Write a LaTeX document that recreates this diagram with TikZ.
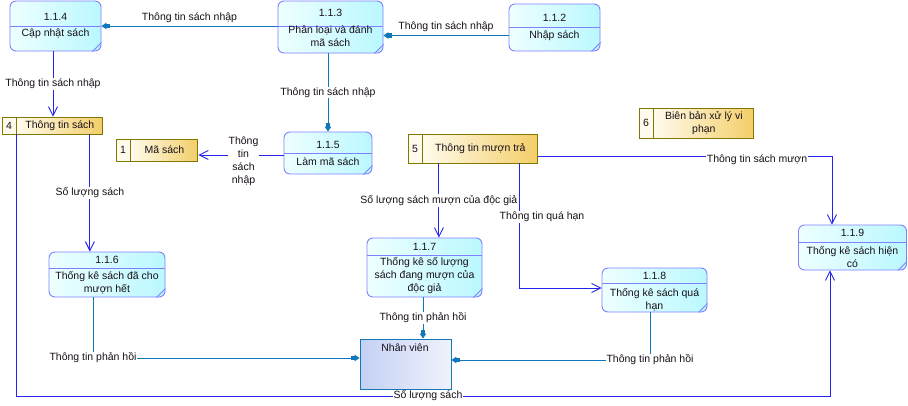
\documentclass[tikz,border=0pt]{standalone}
\usepackage{fontspec}
\setmainfont{Liberation Sans}
\usetikzlibrary{arrows.meta, positioning}

\definecolor{procborder}{RGB}{128,128,255}
\definecolor{procA}{RGB}{238,255,255}
\definecolor{procB}{RGB}{186,248,255}
\definecolor{storeborder}{RGB}{128,120,0}
\definecolor{storeA}{RGB}{255,251,236}
\definecolor{storeB}{RGB}{243,206,104}
\definecolor{entborder}{RGB}{20,120,180}
\definecolor{entA}{RGB}{196,208,244}
\definecolor{entB}{RGB}{240,242,252}
\definecolor{flowteal}{RGB}{16,120,186}
\definecolor{flowblue}{RGB}{36,36,236}
\definecolor{txt}{RGB}{24,16,24}

\tikzset{
  proc/.style={draw=procborder, line width=0.9pt, rounded corners=6pt,
    left color=procA, right color=procB},
  procsep/.style={draw=procborder, line width=0.9pt},
  proctxt/.style={text=txt, align=center, inner sep=0pt},
  storenum/.style={draw=storeborder, line width=0.9pt, fill=storeA,
    minimum width=14pt, inner sep=0pt, text=txt},
  storebody/.style={draw=storeborder, line width=0.9pt, left color=storeA,
    right color=storeB, inner sep=0pt, align=center, text=txt},
  entity/.style={draw=entborder, line width=0.9pt, left color=entA,
    right color=entB},
  flowT/.style={draw=flowteal, line width=0.9pt,
    -{Square[length=3.5pt,width=4.5pt]Triangle[length=5pt,width=6.5pt]}},
  flowB/.style={draw=flowblue, line width=0.9pt,
    -{Straight Barb[length=9pt,width=9pt,line width=0.9pt]}},
  flowlbl/.style={fill=white, inner sep=1pt, text=txt, align=center},
}

\begin{document}
\begin{tikzpicture}[x=1pt, y=-1pt, font=\fontsize{10.5}{13}\selectfont]
    \fill[white] (0,0) rectangle (908,405);
    \useasboundingbox (0,0) rectangle (908,405);

    % Processus 1.1.4
    \node[proc, minimum width=91pt, minimum height=50pt] (p114) at (55.5,26) {};
    \draw[procsep] (p114.west |- 0,26) -- (p114.east |- 0,26);
    \draw[procsep] ([xshift=-9pt]p114.south east) -- ([yshift=9pt]p114.south east);
    \node[proctxt] (p114n) at (55.5,17) {1.1.4};
    \node[proctxt] (p114t) at (55.5,34) {Cập nhật sách};

    % Processus 1.1.3
    \node[proc, minimum width=105pt, minimum height=52pt] (p113) at (330.5,27) {};
    \draw[procsep] (p113.west |- 0,26) -- (p113.east |- 0,26);
    \draw[procsep] ([xshift=-9pt]p113.south east) -- ([yshift=9pt]p113.south east);
    \node[proctxt] (p113n) at (330.5,13) {1.1.3};
    \node[proctxt] (p113t) at (330.5,36) {Phân loại và đánh\\mã sách};

    % Processus 1.1.2
    \node[proc, minimum width=91pt, minimum height=47pt] (p112) at (554.5,27.5) {};
    \draw[procsep] (p112.west |- 0,27) -- (p112.east |- 0,27);
    \draw[procsep] ([xshift=-9pt]p112.south east) -- ([yshift=9pt]p112.south east);
    \node[proctxt] (p112n) at (554.5,18) {1.1.2};
    \node[proctxt] (p112t) at (554.5,36) {Nhập sách};

    % Processus 1.1.5
    \node[proc, minimum width=88pt, minimum height=42pt] (p115) at (328,153) {};
    \draw[procsep] (p115.west |- 0,153) -- (p115.east |- 0,153);
    \draw[procsep] ([xshift=-9pt]p115.south east) -- ([yshift=9pt]p115.south east);
    \node[proctxt] (p115n) at (328,145) {1.1.5};
    \node[proctxt] (p115t) at (328,162) {Làm mã sách};

    % Processus 1.1.6
    \node[proc, minimum width=116pt, minimum height=45pt] (p116) at (107,274.5) {};
    \draw[procsep] (p116.west |- 0,268) -- (p116.east |- 0,268);
    \draw[procsep] ([xshift=-9pt]p116.south east) -- ([yshift=9pt]p116.south east);
    \node[proctxt] (p116n) at (107,260) {1.1.6};
    \node[proctxt] (p116t) at (107,283) {Thống kê sách đã cho\\mượn hết};

    % Processus 1.1.7
    \node[proc, minimum width=115pt, minimum height=59pt] (p117) at (424.5,267.5) {};
    \draw[procsep] (p117.west |- 0,255) -- (p117.east |- 0,255);
    \draw[procsep] ([xshift=-9pt]p117.south east) -- ([yshift=9pt]p117.south east);
    \node[proctxt] (p117n) at (424.5,247) {1.1.7};
    \node[proctxt] (p117t) at (424.5,276) {Thống kê số lượng\\sách đang mượn của\\độc giả};

    % Processus 1.1.8
    \node[proc, minimum width=105pt, minimum height=44pt] (p118) at (654.5,290) {};
    \draw[procsep] (p118.west |- 0,283) -- (p118.east |- 0,283);
    \draw[procsep] ([xshift=-9pt]p118.south east) -- ([yshift=9pt]p118.south east);
    \node[proctxt] (p118n) at (654.5,276) {1.1.8};
    \node[proctxt] (p118t) at (654.5,299.5) {Thống kê sách quá\\hạn};

    % Processus 1.1.9
    \node[proc, minimum width=108pt, minimum height=45pt] (p119) at (852.5,247.5) {};
    \draw[procsep] (p119.west |- 0,242) -- (p119.east |- 0,242);
    \draw[procsep] ([xshift=-9pt]p119.south east) -- ([yshift=9pt]p119.south east);
    \node[proctxt] (p119n) at (852.5,233) {1.1.9};
    \node[proctxt] (p119t) at (852.5,257) {Thống kê sách hiện\\có};

    % Stockages
    \node[storenum, minimum height=17pt] (ds4n) at (9,125.5) {4};
    \node[storebody, minimum width=86pt, minimum height=17pt, right=0pt of ds4n] (ds4) {Thông tin sách};
    \node[storenum, minimum height=22pt] (ds1n) at (123,150) {1};
    \node[storebody, minimum width=67pt, minimum height=22pt, right=0pt of ds1n] (ds1) {Mã sách};
    \node[storenum, minimum height=29pt] (ds5n) at (415,148.5) {5};
    \node[storebody, minimum width=115pt, minimum height=29pt, right=0pt of ds5n] (ds5) {Thông tin mượn trả};
    \node[storenum, minimum height=30pt] (ds6n) at (646,123) {6};
    \node[storebody, minimum width=100pt, minimum height=30pt, right=0pt of ds6n] (ds6) {Biên bản xử lý vi\\phạn};

    % Acteur
    \node[entity, minimum width=91pt, minimum height=50pt] (nv) at (405.5,364) {};
    \node[proctxt] (nvt) at (405,348) {Nhân viên};

    % Flux
    \draw[flowT] (p113.west |- p114.east) -- (p114.east)
        node[flowlbl, midway, above=2pt] (l1) {Thông tin sách nhập};
    \draw[flowT] ([yshift=-8pt]p112.west) -- ([yshift=-8pt]p112.west -| p113.east)
        node[flowlbl, midway, above=2pt] (l2) {Thông tin sách nhập};
    \draw[flowB] ([xshift=-2.5pt]p114.south) -- ([xshift=-2.5pt]p114.south |- ds4.north)
        node[flowlbl, midway] (l3) {Thông tin sách nhập};
    \draw[flowT] (p115.north |- p113.south) -- (p115.north)
        node[flowlbl, midway] (l4) {Thông tin sách nhập};
    \draw[flowB] ([yshift=-2pt]p115.west) -- ([yshift=-2pt]p115.west -| ds1.east)
        node[flowlbl, pos=0.47, yshift=-6.5pt] (l5) {Thông\\tin\\sách\\nhập};
    \draw[flowB] ([xshift=30pt]ds4.south) -- ([xshift=30pt]ds4.south |- p116.north)
        node[flowlbl, midway] (l6) {Số lượng sách};
    \draw[flowB] (ds4n.south east) |- ([xshift=-22.5pt]p119.south |- 0,396)
        -- ([xshift=-22.5pt]p119.south);
    \node[flowlbl] (l7) at (428,396) {Số lượng sách};
    \draw[flowB] ([xshift=-41.5pt]ds5.south) -- ([xshift=-41.5pt]ds5.south |- p117.north)
        node[flowlbl, midway] (l8) {Số lượng sách mượn của độc giả};
    \draw[flowB] ([xshift=39.5pt]ds5.south) |- ([yshift=2pt]p118.west);
    \node[flowlbl] (l9) at (542,217) {Thông tin quá hạn};
    \draw[flowB] ([yshift=-8pt]ds5.east) -| ([xshift=-20.5pt]p119.north);
    \node[flowlbl] (l10) at (757,160) {Thông tin sách mượn};
    \draw[flowT] ([xshift=-14pt]p116.south) |- ([yshift=6pt]nv.west)
        node[flowlbl, pos=0.5] (l11) {Thông tin phản hồi};
    \draw[flowT] ([xshift=-1.5pt]p117.south) -- ([xshift=-1.5pt]p117.south |- nv.north)
        node[flowlbl, midway] (l12) {Thông tin phản hồi};
    \draw[flowT] ([xshift=-4.5pt]p118.south) |- ([yshift=4pt]nv.east)
        node[flowlbl, pos=0.5] (l13) {Thông tin phản hồi};
\end{tikzpicture}
\end{document}
